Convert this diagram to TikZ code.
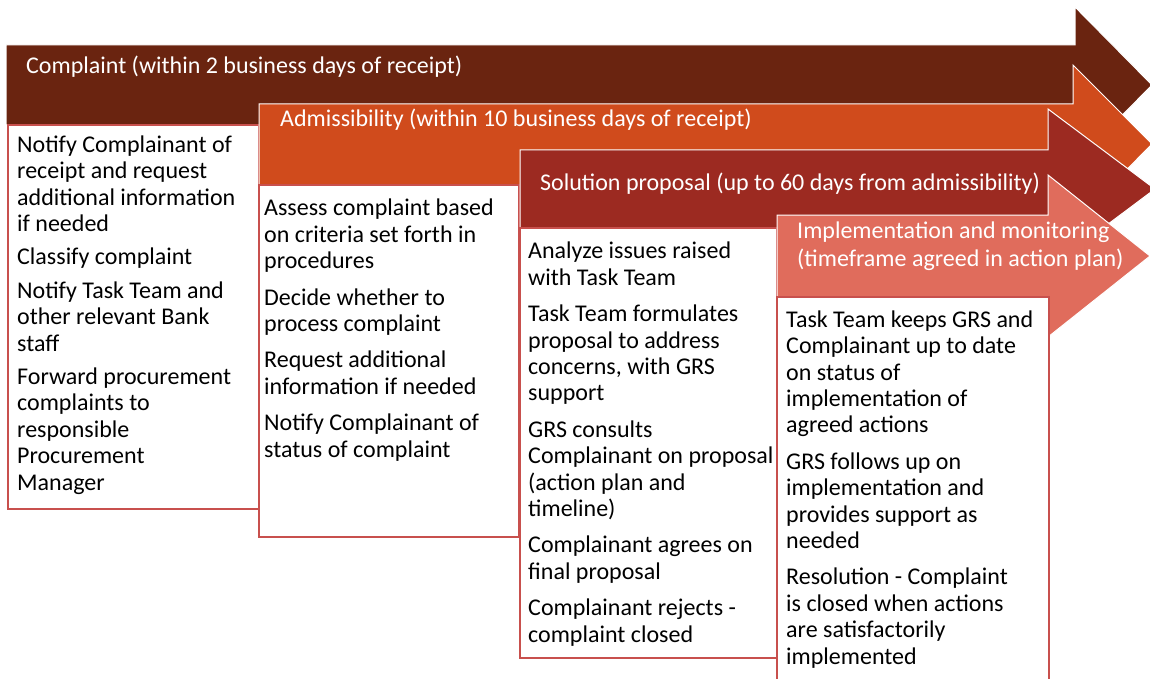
\documentclass[tikz,border=0pt]{standalone}
\usepackage{fontspec}
\setmainfont{Carlito}
\usepackage{tikz}

\definecolor{stepone}{RGB}{106,36,16}
\definecolor{steptwo}{RGB}{208,75,28}
\definecolor{stepthree}{RGB}{156,42,33}
\definecolor{stepfour}{RGB}{224,108,92}
\definecolor{boxline}{RGB}{200,80,77}

\begin{document}
\begin{tikzpicture}[x=1pt,y=-1pt,
			every node/.style={inner sep=0pt,anchor=base west,align=left,
				font=\fontsize{24}{26.4}\selectfont},
			stage/.style={draw=white,line width=1pt},
			title/.style={text=white,font=\fontsize{24}{28}\selectfont},
			panel/.style={draw=boxline,line width=1.5pt,fill=white}]
	\useasboundingbox (0,0) rectangle (1150,679);
	%complaint
	\filldraw[stage,fill=stepone] (6,45) -- (1075,45) -- (1075,7) -- (1152,85)
		-- (1075,163) -- (1075,125) -- (6,125) -- cycle;
	\node[title] (complaint) at (26,74) {Complaint (within 2 business days of receipt)};
	\filldraw[panel] (8,125) rectangle (259,509);
	\node (list1) at (17,490) {Notify Complainant of\\receipt and request\\additional information\\if needed\\[7pt]
		Classify complaint\\[7pt]
		Notify Task Team and\\other relevant Bank\\staff\\[7pt]
		Forward procurement\\complaints to\\responsible\\Procurement\\Manager};
	%admissibility
	\filldraw[stage,fill=steptwo] (259,104) -- (1073,104) -- (1073,65) -- (1152,144)
		-- (1073,224) -- (1073,185) -- (259,185) -- cycle;
	\node[title] (admissibility) at (280,127) {Admissibility (within 10 business days of receipt)};
	\filldraw[panel] (259,185) rectangle (519,537);
	\node (list2) at (264,457) {Assess complaint based\\on criteria set forth in\\procedures\\[10pt]
		Decide whether to\\process complaint\\[10pt]
		Request additional\\information if needed\\[10pt]
		Notify Complainant of\\status of complaint};
	%solution
	\filldraw[stage,fill=stepthree] (520,150) -- (1048,150) -- (1048,109) -- (1155,189)
		-- (1048,269) -- (1048,228) -- (520,228) -- cycle;
	\node[title] (solution) at (540,190) {Solution proposal (up to 60 days from admissibility)};
	\filldraw[panel] (520,228) rectangle (777,658);
	\node (list3) at (528,642) {Analyze issues raised\\with Task Team\\[10pt]
		Task Team formulates\\proposal to address\\concerns, with GRS\\support\\[10pt]
		GRS consults\\Complainant on proposal\\(action plan and\\timeline)\\[10pt]
		Complainant agrees on\\final proposal\\[10pt]
		Complainant rejects -\\complaint closed};
	%implementation
	\filldraw[stage,fill=stepfour] (777,215) -- (1048,215) -- (1048,175) -- (1150,256)
		-- (1048,337) -- (1048,297) -- (777,297) -- cycle;
	\node[title] (implementation) at (797,266) {Implementation and monitoring\\(timeframe agreed in action plan)};
	\fill[white] (777,297) rectangle (1049,679);
	\draw[panel] (777,679) |- (1049,297) -- (1049,679);
	\node (list4) at (786,664) {Task Team keeps GRS and\\Complainant up to date\\on status of\\implementation of\\agreed actions\\[10pt]
		GRS follows up on\\implementation and\\provides support as\\needed\\[10pt]
		Resolution - Complaint\\is closed when actions\\are satisfactorily\\implemented};
\end{tikzpicture}
\end{document}
